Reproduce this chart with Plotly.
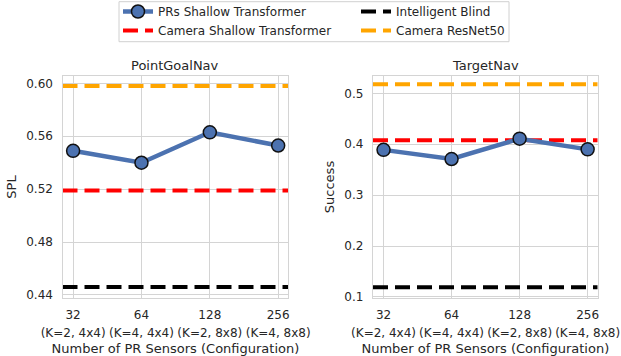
import plotly.graph_objects as go

# Sensor configurations on the shared x axis
sensor_counts = ["32", "64", "128", "256"]
sensor_configs = ["(K=2, 4x4)", "(K=4, 4x4)", "(K=2, 8x8)", "(K=4, 8x8)"]

# PointGoalNav (SPL)
pointgoal_prs = [0.549, 0.540, 0.563, 0.553]
pointgoal_camera_shallow = 0.519
pointgoal_camera_resnet = 0.598
pointgoal_blind = 0.446

# TargetNav (Success)
targetnav_prs = [0.389, 0.371, 0.411, 0.390]
targetnav_camera_shallow = 0.408
targetnav_camera_resnet = 0.518
targetnav_blind = 0.119

pointgoal_ticks = [0.44, 0.48, 0.52, 0.56, 0.60]
targetnav_ticks = [0.1, 0.2, 0.3, 0.4, 0.5]

W, H = 621, 356
FONT = "DejaVu Sans"
TXT = "#262626"
GRID = "#d4d4d4"
BLUE = "#4c72b0"
X_RANGE = [-0.155, 3.148]

x_idx = list(range(len(sensor_counts)))
tick_text = [f"<span style='font-size:12px'>{n}</span><br><span style='font-size:12px'>{c}</span>"
             for n, c in zip(sensor_counts, sensor_configs)]

fig = go.Figure()

baselines = [
    ("Camera Shallow Transformer", "#ff0000", pointgoal_camera_shallow, targetnav_camera_shallow, "legend"),
    ("Intelligent Blind", "#000000", pointgoal_blind, targetnav_blind, "legend2"),
    ("Camera ResNet50", "#ffa500", pointgoal_camera_resnet, targetnav_camera_resnet, "legend2"),
]
DASH = "15px,7px"

# horizontal reference lines spanning each panel
for name, color, v_left, v_right, lg in baselines:
    for xr, yr, v, show in (("x", "y", v_left, True), ("x2", "y2", v_right, False)):
        fig.add_trace(go.Scatter(
            x=X_RANGE, y=[v, v], xaxis=xr, yaxis=yr, mode="lines",
            name=name, legend=lg, showlegend=show, hoverinfo="skip",
            line=dict(color=color, width=4, dash=DASH),
        ))

# PR sensor curves
for xr, yr, vals, show in (("x", "y", pointgoal_prs, True), ("x2", "y2", targetnav_prs, False)):
    fig.add_trace(go.Scatter(
        x=x_idx, y=vals, xaxis=xr, yaxis=yr, mode="lines+markers",
        name="PRs Shallow Transformer", showlegend=show, legend="legend", legendrank=1,
        line=dict(color=BLUE, width=4.5),
        marker=dict(size=13, color=BLUE, line=dict(color="#111111", width=1.5)),
        cliponaxis=False,
    ))

axis_common = dict(
    showgrid=True, gridcolor=GRID, gridwidth=1,
    showline=True, linecolor=GRID, linewidth=1.3, mirror=True,
    zeroline=False, ticks="", tickfont=dict(family=FONT, size=12, color=TXT),
    automargin=False,
)

x_common = dict(axis_common, tickmode="array", tickvals=x_idx, ticktext=tick_text,
                tickfont=dict(family=FONT, size=14, color=TXT), tickangle=0,
                range=X_RANGE, ticklabelstandoff=3,
                title=dict(text="Number of PR Sensors (Configuration)",
                           font=dict(family=FONT, size=13, color=TXT), standoff=6))

ydom = [1 - 298.3 / H, 1 - 75.7 / H]

fig.update_layout(
    width=W, height=H,
    margin=dict(l=0, r=0, t=0, b=0, autoexpand=False),
    paper_bgcolor="white", plot_bgcolor="white",
    font=dict(family=FONT, size=12, color=TXT),
    xaxis=dict(x_common, domain=[62.5 / W, 288.3 / W], anchor="y"),
    xaxis2=dict(x_common, domain=[373 / W, 597.7 / W], anchor="y2"),
    yaxis=dict(axis_common, domain=ydom, anchor="x", range=[0.4375, 0.6058],
               tickmode="array", tickvals=pointgoal_ticks,
               ticktext=[f"{t:.2f}" for t in pointgoal_ticks], ticklabelstandoff=6,
               title=dict(text="SPL", font=dict(family=FONT, size=13, color=TXT), standoff=6)),
    yaxis2=dict(axis_common, domain=ydom, anchor="x2", range=[0.0972, 0.5348],
                tickmode="array", tickvals=targetnav_ticks,
                ticktext=[f"{t:.1f}" for t in targetnav_ticks], ticklabelstandoff=6,
                title=dict(text="Success", font=dict(family=FONT, size=13, color=TXT), standoff=6)),
    legend=dict(x=118 / W, y=1 + 3 / H, xanchor="left", yanchor="top",
                bgcolor="rgba(0,0,0,0)", font=dict(family=FONT, size=12, color=TXT),
                tracegroupgap=0, itemwidth=30, traceorder="normal"),
    legend2=dict(x=356 / W, y=1 + 3 / H, xanchor="left", yanchor="top",
                 bgcolor="rgba(0,0,0,0)", font=dict(family=FONT, size=12, color=TXT),
                 tracegroupgap=0, itemwidth=30, traceorder="normal"),
    annotations=[
        dict(text="PointGoalNav", xref="x domain", yref="paper", x=0.5, y=1 - 65 / H,
             showarrow=False, font=dict(family=FONT, size=13, color=TXT), yanchor="middle"),
        dict(text="TargetNav", xref="x2 domain", yref="paper", x=0.5, y=1 - 65 / H,
             showarrow=False, font=dict(family=FONT, size=13, color=TXT), yanchor="middle"),
    ],
)

# frame around both legend columns
fig.add_shape(type="rect", xref="paper", yref="paper",
              x0=119 / W, x1=509 / W, y0=1 - 41.7 / H, y1=1 - 1.7 / H,
              line=dict(color="#d0d0d0", width=1), fillcolor="rgba(0,0,0,0)", layer="above")

fig.write_html("out.html")
